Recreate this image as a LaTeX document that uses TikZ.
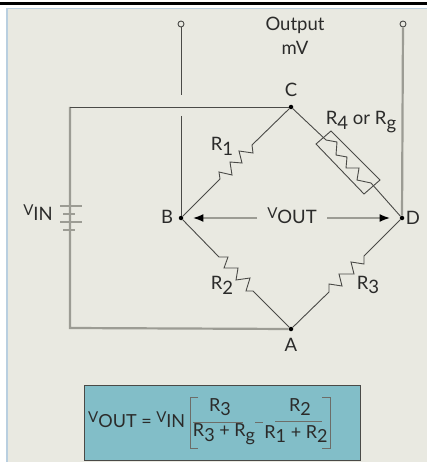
\documentclass[tikz,border=0pt]{standalone}
\usepackage{fontspec}
\setmainfont{Lato}
\usetikzlibrary{arrows.meta}
\definecolor{panel}{HTML}{E9E9E1}
\definecolor{edge}{HTML}{B9CFE0}
\definecolor{ink}{HTML}{4A4A47}
\definecolor{textink}{HTML}{2B2B2A}
\definecolor{wiregrey}{HTML}{9C9C94}
\definecolor{formula}{HTML}{82BEC8}
\newcommand{\lowd}[1]{\raisebox{-0.26em}{#1}}
\newcommand{\capV}{\raisebox{0.26em}{\fontsize{15}{15}\selectfont V}}
\tikzset{
  dotnode/.style={circle,fill=black,inner sep=0pt,minimum size=4.5pt},
  termnode/.style={circle,draw=ink,fill=panel,line width=.9pt,inner sep=0pt,minimum size=6pt},
  lbl/.style={text=textink,inner sep=0pt,font=\fontsize{18.5}{18.5}\selectfont,align=center},
  flbl/.style={text=textink,inner sep=0pt,font=\fontsize{18}{18}\selectfont,align=center},
  wire/.style={draw=ink,line width=.9pt},
  thick wire/.style={draw=wiregrey,line width=2.2pt},
  resistor/.style={draw=ink,line width=.9pt,line join=miter},
  flow/.style={draw=wiregrey,line width=2.6pt,shorten >=9pt},
  head/.style={-{Latex[length=11pt,width=8pt,black]}},
  plate/.style={draw=wiregrey,line width=2.4pt},
  rule/.style={draw=wiregrey!70!black,line width=1pt},
}
\begin{document}
\begin{tikzpicture}[x=1pt,y=-1pt]
\useasboundingbox (0,0) rectangle (427,462);
\fill[white] (0,0) rectangle (427,462);
\fill[black] (0,2.5) rectangle (427,4.8);
\fill[edge] (6,8) rectangle (427,462);
\fill[panel] (7.5,9.5) rectangle (427,462);
% junctions
\node[dotnode] (C) at (291,107) {};
\node[dotnode] (B) at (181,218) {};
\node[dotnode] (D) at (402,218) {};
\node[dotnode] (A) at (291,329) {};
\node[termnode] (TL) at (181,24) {};
\node[termnode] (TR) at (403,24) {};
\coordinate (gapU) at (181,95);
\coordinate (gapL) at (181,116);
\coordinate (NW) at (70,107);
\coordinate (SW) at (70,328);
% wires
\draw[wire] (TL) -- (gapU);
\draw[wire] (gapL) -- (B);
\draw[thick wire] (TR) -- (D);
\draw[thick wire] (NW) -- (SW) -- (A);
\draw[wire] (C) -- (NW);
% battery
\foreach \y/\a/\b in {206/60/82,214/63/75,222/60/82,230/63/75}
  \draw[plate] (\a,\y) -- (\b,\y);
% resistors
\draw[resistor] (B) -- (220,179) -- (219,172) -- (232,175) -- (230,162) -- (242,163) -- (239,151) -- (253,153) -- (252,145) -- (C);
\draw[resistor] (B) -- (219,257) -- (228,257) -- (224,268) -- (238,268) -- (236,280) -- (250,278) -- (246,291) -- (253,291) -- (A);
\draw[resistor] (A) -- (329,292) -- (329,284) -- (342,286) -- (339,274) -- (354,274) -- (351,262) -- (364,264) -- (364,256) -- (D);
\draw[resistor] (C) -- (326,140) -- (337,142) -- (336,155) -- (347,157) -- (346,168) -- (359,168) -- (357,180) -- (371,183) -- (D);
\draw[draw=ink,line width=.9pt] (331,131) -- (316,144) -- (364,194) -- (380,180) -- cycle;
% arrows
\coordinate (VL) at (257,218);
\coordinate (VR) at (327,218);
\draw[flow,head] (VL) -- (B);
\draw[flow,head] (VR) -- (D);
% labels
\node[lbl] (lOut) at (295,25) {Output};
\node[lbl] (lmV) at (295,48) {mV};
\node[lbl] (lC) at (291,90) {C};
\node[lbl] (lB) at (167,217) {B};
\node[lbl] (lD) at (413,218) {D};
\node[lbl] (lA) at (291,345) {A};
\node[lbl] (lVin) at (38,213) {\capV IN};
\node[lbl] (lVout) at (292,216) {\capV OUT};
\node[lbl] (lR1) at (222,146) {R\lowd{1}};
\node[lbl] (lR2) at (222,285) {R\lowd{2}};
\node[lbl] (lR3) at (368,285) {R\lowd{3}};
\node[lbl] (lR4) at (361,122) {R\lowd{4} or R\lowd{g}};
% formula
\draw[draw=ink,line width=1.6pt,fill=formula] (84.5,385.5) rectangle (360.5,460.5);
\node[flbl,anchor=west] (fL) at (88,420) {\capV OUT = \capV IN};
\draw[rule] (198,397) -- (190,397) -- (190,448) -- (198,448);
\draw[rule] (322,397) -- (330,397) -- (330,448) -- (322,448);
\draw[rule] (193,422) -- (243,422);
\draw[rule] (275,421) -- (322,421);
\draw[rule] (255,422) -- (263,422);
\node[flbl] (fN1) at (220,407) {R\lowd{3}};
\node[flbl] (fD1) at (224,434) {R\lowd{3} + R\lowd{g}};
\node[flbl] (fN2) at (300,407) {R\lowd{2}};
\node[flbl] (fD2) at (296,434) {R\lowd{1} + R\lowd{2}};
\end{tikzpicture}
\end{document}
